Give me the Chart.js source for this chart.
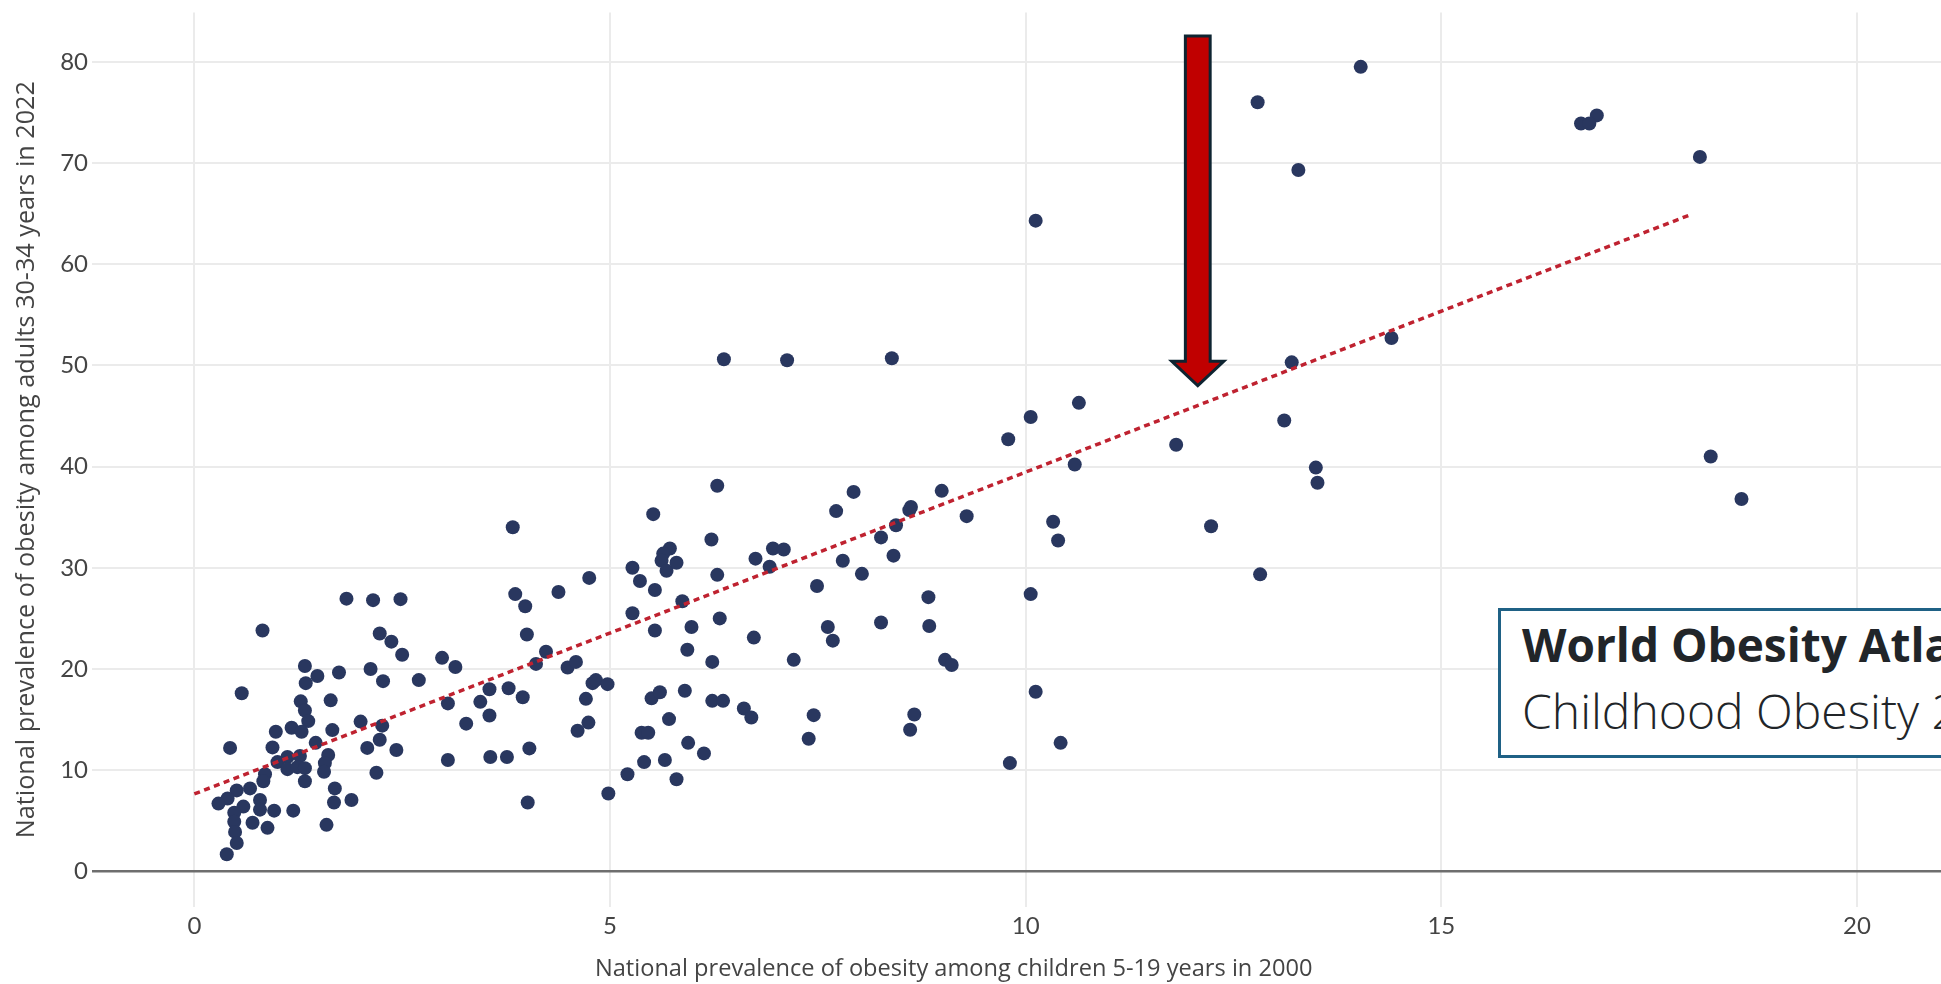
<!DOCTYPE html>
<html>
<head>
<meta charset="utf-8">
<script src="https://cdn.jsdelivr.net/npm/chart.js@4.4.1/dist/chart.umd.min.js"></script>
<style>
  html, body { margin: 0; padding: 0; background: #fff; overflow: hidden; }
  #wrap { position: relative; width: 1941px; height: 984px; overflow: hidden; }
  #chart { position: absolute; left: 0; top: 0; }
  #xtitle {
    position: absolute; left: 953.7px; top: 955.5px; transform: translateX(-50%);
    font-family: "Open Sans", sans-serif; font-size: 23.6px; line-height: 1; color: #444; white-space: nowrap;
  }
  #atlas {
    position: absolute; left: 1498px; top: 608px; width: 700px; height: 144px;
    border: 3px solid #1f6185; background: #fff; color: #212529; font-family: "Open Sans", sans-serif;
  }
  #atlas .l1 { position: absolute; left: 21px; top: 10px; font-size: 46px; font-weight: 700; line-height: 1; white-space: nowrap; }
  #atlas .l2 { position: absolute; left: 21px; top: 76.4px; font-size: 48px; font-weight: 300; line-height: 1; white-space: nowrap; }
</style>
</head>
<body>
<div id="wrap">
  <canvas id="chart" width="1941" height="984"></canvas>
  <div id="xtitle">National prevalence of obesity among children 5-19 years in 2000</div>
  <div id="atlas">
    <div class="l1">World Obesity Atlas 2025</div>
    <div class="l2">Childhood Obesity 2025</div>
  </div>
</div>
<script>
// 어린이 비만율 (2000) / 성인 비만율 (2022), 국가별
const child2000 = [
  0.82, 2.23, 2.37, 2.50, 2.98, 3.14, 1.33, 1.48, 1.74, 2.12,
  2.27, 2.70, 1.34, 0.57, 1.28, 1.33, 1.37, 1.64, 1.17, 1.29,
  0.98, 1.66, 2.00, 2.26, 2.23, 3.05, 0.43, 0.94, 1.46, 2.08,
  2.43, 1.00, 1.12, 1.12, 1.27, 1.24, 1.33, 1.61, 1.57, 1.56,
  1.33, 0.85, 0.83, 0.67, 0.51, 0.40, 0.29, 0.79, 0.59, 0.79,
  0.96, 1.19, 0.48, 0.48, 0.70, 0.88, 0.49, 0.51, 0.39, 1.69,
  1.68, 1.89, 1.59, 2.19, 3.05, 1.83, 2.15, 2.48, 3.83, 5.52,
  6.29, 6.22, 5.72, 5.64, 5.62, 5.68, 5.80, 5.27, 5.36, 5.54,
  4.75, 3.86, 3.98, 4.38, 6.29, 5.87, 5.27, 6.32, 5.54, 5.98,
  4.00, 5.93, 6.23, 4.23, 4.11, 4.49, 4.59, 4.79, 4.83, 4.97,
  4.71, 4.74, 4.61, 3.27, 3.44, 3.55, 3.55, 3.78, 3.95, 3.56,
  3.76, 4.03, 4.01, 4.98, 5.21, 5.41, 5.66, 5.80, 6.13, 5.94,
  5.38, 5.46, 5.71, 5.50, 5.60, 5.90, 6.23, 6.36, 10.64, 10.06,
  9.79, 10.59, 7.93, 8.99, 7.72, 9.29, 8.62, 8.60, 10.33, 10.39,
  8.44, 8.26, 6.75, 6.96, 7.09, 6.92, 7.80, 8.41, 8.03, 7.49,
  8.83, 10.06, 6.73, 7.62, 7.68, 8.26, 8.84, 7.21, 9.03, 9.11,
  6.61, 6.70, 7.45, 7.39, 8.66, 8.61, 10.12, 10.42, 9.81, 6.37,
  7.13, 8.39, 10.12, 13.11, 11.81, 13.49, 13.51, 12.23, 12.82, 14.03,
  12.79, 13.28, 16.87, 16.68, 16.78, 18.11, 14.40, 13.20, 18.24, 18.61
];
const adult2022 = [
  23.8, 23.5, 22.7, 21.4, 21.1, 20.2, 20.3, 19.3, 19.65, 20.0,
  18.8, 18.9, 18.6, 17.6, 16.8, 15.9, 14.85, 16.9, 14.2, 13.8,
  13.8, 13.96, 14.8, 14.4, 13.0, 16.6, 12.2, 12.25, 12.7, 12.2,
  12.0, 10.8, 11.3, 10.1, 11.4, 10.3, 10.2, 11.5, 10.7, 9.85,
  8.9, 9.6, 8.9, 8.2, 8.0, 7.2, 6.7, 7.05, 6.4, 6.1,
  6.0, 6.0, 5.8, 4.9, 4.8, 4.3, 3.9, 2.8, 1.7, 8.2,
  6.8, 7.05, 4.6, 9.75, 11.0, 26.95, 26.8, 26.9, 34.0, 35.3,
  38.1, 32.8, 31.9, 31.4, 30.7, 29.7, 30.5, 30.0, 28.7, 27.8,
  29.0, 27.4, 26.2, 27.6, 29.3, 26.7, 25.5, 25.0, 23.8, 24.15,
  23.4, 21.9, 20.7, 21.7, 20.5, 20.15, 20.7, 18.6, 18.9, 18.5,
  17.05, 14.7, 13.9, 14.6, 16.75, 18.0, 15.4, 18.1, 17.2, 11.3,
  11.3, 12.15, 6.8, 7.7, 9.6, 10.8, 11.0, 9.1, 11.66, 12.7,
  13.7, 13.7, 15.05, 17.1, 17.7, 17.85, 16.85, 16.85, 46.3, 44.9,
  42.7, 40.2, 37.5, 37.6, 35.6, 35.1, 36.0, 35.7, 34.55, 32.7,
  34.2, 33.0, 30.9, 31.9, 31.8, 30.1, 30.7, 31.2, 29.4, 28.2,
  27.1, 27.4, 23.1, 24.15, 22.8, 24.6, 24.25, 20.9, 20.9, 20.4,
  16.1, 15.2, 15.44, 13.1, 15.5, 14.0, 17.75, 12.7, 10.7, 50.6,
  50.5, 50.7, 64.3, 44.55, 42.15, 39.9, 38.4, 34.1, 29.35, 79.5,
  76.0, 69.3, 74.7, 73.9, 73.9, 70.6, 52.7, 50.3, 41.0, 36.8
];

// 추세선 양 끝점
const trendX = [0, 18.0];
const trendY = [7.65, 64.9];

const xTicks = [0, 5, 10, 15, 20];
const yTicks = [0, 10, 20, 30, 40, 50, 60, 70, 80];

// 화살표 주석 (데이터 좌표)
const arrowMark = { x: 12.07, top: 82.7, headBase: 50.4, tip: 47.8 };

const arrowPlugin = {
  id: "arrow",
  afterDatasetsDraw(chart) {
    const { ctx, scales: { x, y } } = chart;
    const cx = x.getPixelForValue(arrowMark.x);
    const top = y.getPixelForValue(arrowMark.top) + 1.5;
    const base = y.getPixelForValue(arrowMark.headBase);
    const tip = y.getPixelForValue(arrowMark.tip) - 2;
    const sw = 12.4, hw = 26;
    ctx.save();
    ctx.beginPath();
    ctx.moveTo(cx - sw, top);
    ctx.lineTo(cx + sw, top);
    ctx.lineTo(cx + sw, base);
    ctx.lineTo(cx + hw, base);
    ctx.lineTo(cx, tip);
    ctx.lineTo(cx - hw, base);
    ctx.lineTo(cx - sw, base);
    ctx.closePath();
    ctx.fillStyle = "#c00000";
    ctx.fill();
    ctx.lineWidth = 3;
    ctx.lineJoin = "miter";
    ctx.strokeStyle = "#0e2431";
    ctx.stroke();
    ctx.restore();
  }
};

const tickFont = { family: "Lato, sans-serif", size: 24 };

new Chart(document.getElementById("chart").getContext("2d"), {
  type: "scatter",
  data: {
    datasets: [
      {
        type: "line",
        label: "Trend",
        data: trendX.map((v, i) => ({ x: v, y: trendY[i] })),
        borderColor: "#bf2230",
        borderWidth: 3.5,
        borderDash: [6, 4.5],
        pointRadius: 0,
        fill: false,
        order: 0
      },
      {
        label: "Countries",
        data: child2000.map((v, i) => ({ x: v, y: adult2022[i] })),
        backgroundColor: "#29375f",
        borderWidth: 0,
        pointRadius: 7,
        order: 1
      }
    ]
  },
  options: {
    responsive: false,
    animation: false,
    devicePixelRatio: 1,
    layout: { autoPadding: false, padding: { top: 12.6, left: 0, right: 0, bottom: 0 } },
    plugins: { legend: { display: false }, tooltip: { enabled: false } },
    scales: {
      x: {
        type: "linear",
        min: -1.231,
        max: 21.01,
        afterBuildTicks: s => { s.ticks = xTicks.map(v => ({ value: v })); },
        afterFit: s => { s.height = 77.3; s.paddingLeft = 0; s.paddingRight = 0; },
        grid: { color: "#ebebeb", lineWidth: 2, drawTicks: false },
        border: { display: false },
        ticks: { padding: 5.5, color: "#444", font: tickFont, maxRotation: 0 }
      },
      y: {
        type: "linear",
        min: -3.49,
        max: 84.86,
        afterBuildTicks: s => { s.ticks = yTicks.map(v => ({ value: v })); },
        afterFit: s => { s.width = 92; s.paddingTop = 0; s.paddingBottom = 0; },
        grid: {
          color: c => (c.tick && c.tick.value === 0 ? "#6e6e6e" : "#ebebeb"),
          lineWidth: c => (c.tick && c.tick.value === 0 ? 2.6 : 2),
          drawTicks: false
        },
        border: { display: false },
        ticks: { padding: 4, color: "#444", font: tickFont },
        title: {
          display: true,
          text: "National prevalence of obesity among adults 30-34 years in 2022",
          color: "#444",
          font: { family: "'Open Sans', sans-serif", size: 25.2 },
          padding: { top: 12, bottom: 0 }
        }
      }
    }
  },
  plugins: [arrowPlugin]
});
</script>
</body>
</html>
